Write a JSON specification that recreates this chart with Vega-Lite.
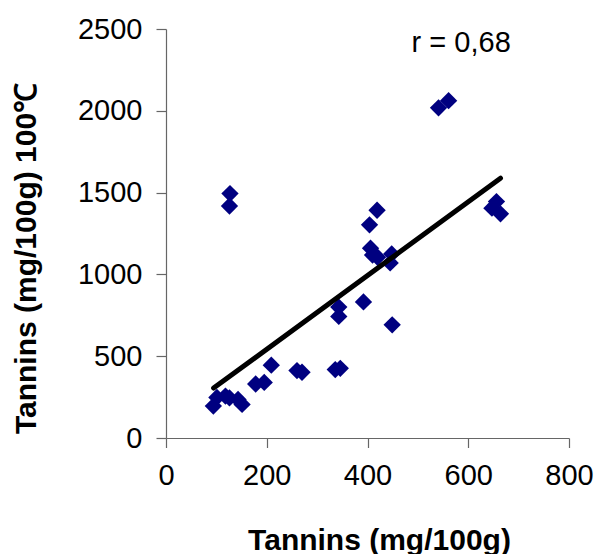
{
  "$schema": "https://vega.github.io/schema/vega-lite/v6.json",
  "width": 403,
  "height": 409,
  "autosize": "none",
  "padding": {"left": 166, "top": 29, "right": 28, "bottom": 116},
  "background": "white",
  "config": {"view": {"stroke": null}, "font": "Liberation Sans"},
  "datasets": {
    "pts": [
      {"x": 94, "y": 195}, {"x": 101, "y": 248}, {"x": 118, "y": 256}, {"x": 126, "y": 245},
      {"x": 143, "y": 236}, {"x": 151, "y": 205}, {"x": 178, "y": 330}, {"x": 195, "y": 340},
      {"x": 209, "y": 445}, {"x": 260, "y": 412}, {"x": 270, "y": 402}, {"x": 336, "y": 418},
      {"x": 346, "y": 426}, {"x": 343, "y": 743}, {"x": 343, "y": 800}, {"x": 392, "y": 832},
      {"x": 449, "y": 692}, {"x": 404, "y": 1303}, {"x": 419, "y": 1392}, {"x": 406, "y": 1160},
      {"x": 410, "y": 1118}, {"x": 420, "y": 1105}, {"x": 445, "y": 1070}, {"x": 448, "y": 1125},
      {"x": 127, "y": 1494}, {"x": 126, "y": 1418}, {"x": 541, "y": 2018}, {"x": 561, "y": 2062},
      {"x": 656, "y": 1445}, {"x": 647, "y": 1405}, {"x": 664, "y": 1370}
    ],
    "fit": [{"x": 94.5, "y": 305}, {"x": 664, "y": 1588}],
    "lbl": [{"x": 586, "y": 2414, "t": "r = 0,68"}]
  },
  "layer": [
    {
      "data": {"name": "pts"},
      "mark": {"type": "point", "shape": "diamond", "filled": true, "size": 300, "color": "#000080", "opacity": 1},
      "encoding": {
        "x": {
          "field": "x", "type": "quantitative",
          "scale": {"domain": [0, 800], "nice": false, "zero": false},
          "axis": {
            "values": [0, 200, 400, 600, 800], "grid": false, "format": "d",
            "title": "Tannins (mg/100g)", "titleFontSize": 30, "titleFontWeight": "bold", "titleColor": "black",
            "titleX": 213, "titleY": 111, "titleBaseline": "alphabetic", "titleAlign": "center",
            "labelFontSize": 29, "labelColor": "black", "labelBaseline": "alphabetic", "labelPadding": 37,
            "labelFlush": false, "labelOverlap": false,
            "tickSize": 9.5, "tickColor": "#666666", "domainColor": "#666666", "tickWidth": 1.2, "domainWidth": 1.2
          }
        },
        "y": {
          "field": "y", "type": "quantitative",
          "scale": {"domain": [0, 2500], "nice": false, "zero": false},
          "axis": {
            "values": [0, 500, 1000, 1500, 2000, 2500], "grid": false, "format": "d",
            "title": "Tannins (mg/100g) 100\u2103", "titleFontSize": 30, "titleFontWeight": "bold", "titleColor": "black",
            "titleX": -140, "titleY": 229, "titleBaseline": "middle", "titleAngle": 270, "titleAlign": "center",
            "labelFontSize": 29, "labelColor": "black", "labelPadding": 14, "labelFlush": false, "labelOverlap": false,
            "tickSize": 10, "tickColor": "#666666", "domainColor": "#666666", "tickWidth": 1.2, "domainWidth": 1.2
          }
        }
      }
    },
    {
      "data": {"name": "fit"},
      "mark": {"type": "line", "color": "black", "strokeWidth": 5, "strokeCap": "round"},
      "encoding": {
        "x": {"field": "x", "type": "quantitative"},
        "y": {"field": "y", "type": "quantitative"}
      }
    },
    {
      "data": {"name": "lbl"},
      "mark": {"type": "text", "fontSize": 29, "align": "center", "baseline": "middle", "color": "black"},
      "encoding": {
        "x": {"field": "x", "type": "quantitative"},
        "y": {"field": "y", "type": "quantitative"},
        "text": {"field": "t"}
      }
    }
  ]
}
